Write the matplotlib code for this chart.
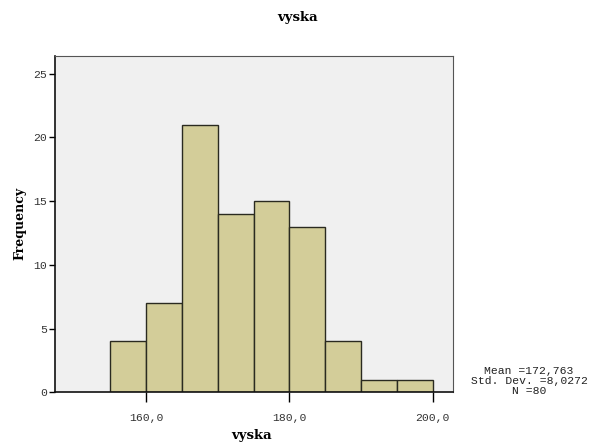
import numpy as np
import matplotlib
matplotlib.use('Agg')
import matplotlib.pyplot as plt

# histogram bins (left edges) and counts
bin_edges = [155, 160, 165, 170, 175, 180, 185, 190, 195, 200]
counts = [4, 7, 21, 14, 15, 13, 4, 1, 1]
xticks = [160, 180, 200]
xtick_labels = ['160,0', '180,0', '200,0']
yticks = [0, 5, 10, 15, 20, 25]
stats = ['Mean =172,763', 'Std. Dev. =8,0272', 'N =80']

fig = plt.figure(figsize=(5.96, 4.42), dpi=100)
ax = fig.add_axes([0.0923, 0.1124, 0.6673, 0.7616])
ax.set_facecolor('#f0f0f0')

widths = np.diff(bin_edges)
ax.bar(bin_edges[:-1], counts, width=widths, align='edge',
       color='#d3cd99', edgecolor='#2a2a20', linewidth=1.0, zorder=2)

ax.set_xlim(147.3, 202.8)
ax.set_ylim(0, 26.4)
ax.set_xticks(xticks)
ax.set_xticklabels(xtick_labels)
ax.set_yticks(yticks)

for lab in ax.get_xticklabels() + ax.get_yticklabels():
  lab.set_family('Liberation Mono')
  lab.set_fontsize(8.2)
  lab.set_color('#333333')

ax.tick_params(axis='x', direction='out', length=7, width=1, pad=8)
ax.tick_params(axis='y', direction='out', length=4, width=1, pad=2)

for side in ['top', 'right']:
  ax.spines[side].set_color('#555555')
  ax.spines[side].set_linewidth(0.8)
for side in ['left', 'bottom']:
  ax.spines[side].set_color('#111111')
  ax.spines[side].set_linewidth(1.2)

fig.text(298 / 596, 1 - 17 / 442, 'vyska', family='DejaVu Serif', weight='bold',
         fontsize=9.5, ha='center', va='center')
fig.text(252 / 596, 1 - 435 / 442, 'vyska', family='DejaVu Serif', weight='bold',
         fontsize=9.5, ha='center', va='center')
fig.text(20 / 596, 1 - 223 / 442, 'Frequency', family='DejaVu Serif', weight='bold',
         fontsize=9, ha='center', va='center', rotation=90)

fig.text(529 / 596, 1 - 381 / 442, '\n'.join(stats), family='Liberation Mono',
         fontsize=8.2, ha='center', va='center', linespacing=1.0, color='#222222')

fig.savefig('out.png', dpi=100, facecolor='white')
